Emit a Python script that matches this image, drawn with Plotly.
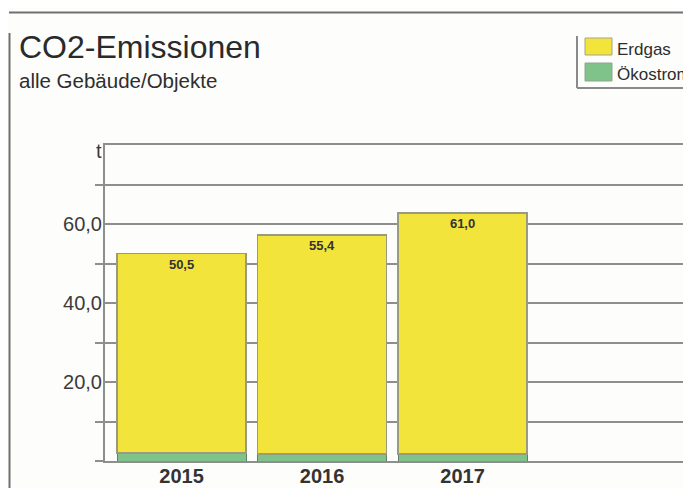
import plotly.graph_objects as go

# ---- data ----
years = ["2015", "2016", "2017"]
erdgas = [50.5, 55.4, 61.0]
oekostrom = [2.0, 1.8, 1.8]
y_tick_vals = [20, 40, 60]
y_tick_text = ["20,0", "40,0", "60,0"]
y_minor_vals = [0, 10, 30, 50, 70]
series_names = ["Erdgas", "Ökostrom"]

# ---- styling ----
YELLOW = "#f3e43c"
GREEN = "#7fc38b"
GRID = "#8e8e8e"
FONT = "Liberation Sans"

OFF = 8  # default page body margin
PAGE_W, PAGE_H = 691, 488
W, H = PAGE_W - OFF, PAGE_H - OFF
# plot area in page pixels: x 105..691, y 145..461
L = 105 - OFF
T = 145 - OFF
B = PAGE_H - 461
R = 0
PW = W - L - R
PH = H - T - B


def px(x):
    """page pixel x -> paper x"""
    return (x - OFF - L) / PW


def py(y):
    """page pixel y -> paper y"""
    return (H - B - (y - OFF)) / PH


fig = go.Figure()
fig.add_trace(go.Bar(
    x=years, y=oekostrom, name=series_names[1],
    marker=dict(color=GREEN, line=dict(color="#5f7f66", width=1)),
    hoverinfo="skip",
))
fig.add_trace(go.Bar(
    x=years, y=erdgas, name=series_names[0],
    marker=dict(color=YELLOW, line=dict(color="#9a9a80", width=1.5)),
    texttemplate="%{y:.1f}", textposition="inside", insidetextanchor="end",
    textangle=0, constraintext="none",
    textfont=dict(family=FONT, size=13, color="#333333", weight="bold"),
    hoverinfo="skip",
))

shapes = []
# outer frame lines
shapes.append(dict(type="line", xref="paper", yref="paper",
                   x0=px(9), x1=px(PAGE_W), y0=py(12.5), y1=py(12.5),
                   line=dict(color="#707070", width=2)))
shapes.append(dict(type="line", xref="paper", yref="paper",
                   x0=px(9.5), x1=px(9.5), y0=py(33), y1=py(PAGE_H),
                   line=dict(color="#707070", width=2)))
# legend frame (left and bottom)
shapes.append(dict(type="line", xref="paper", yref="paper",
                   x0=px(577), x1=px(577), y0=py(36), y1=py(88),
                   line=dict(color="#8a8a8a", width=2)))
shapes.append(dict(type="line", xref="paper", yref="paper",
                   x0=px(577), x1=px(PAGE_W), y0=py(88), y1=py(88),
                   line=dict(color="#8a8a8a", width=2)))
# legend swatches
shapes.append(dict(type="rect", xref="paper", yref="paper",
                   x0=px(585), x1=px(612), y0=py(55), y1=py(38),
                   fillcolor=YELLOW, line=dict(color="#a5a58a", width=1)))
shapes.append(dict(type="rect", xref="paper", yref="paper",
                   x0=px(585), x1=px(612), y0=py(81), y1=py(63),
                   fillcolor=GREEN, line=dict(color="#8fa592", width=1)))

annotations = [
    dict(text="CO2-Emissionen", xref="paper", yref="paper",
         x=px(17), y=py(47), xanchor="left", yanchor="middle",
         showarrow=False, font=dict(family=FONT, size=32, color="#2a2a2a")),
    dict(text="alle Gebäude/Objekte", xref="paper", yref="paper",
         x=px(17), y=py(80.5), xanchor="left", yanchor="middle",
         showarrow=False, font=dict(family=FONT, size=20.5, color="#2e2e2e")),
    dict(text="t", xref="paper", yref="paper",
         x=px(104), y=py(151), xanchor="right", yanchor="middle",
         showarrow=False, font=dict(family=FONT, size=20, color="#3a3a3a")),
    dict(text=series_names[0], xref="paper", yref="paper",
         x=px(615), y=py(49.5), xanchor="left", yanchor="middle",
         showarrow=False, font=dict(family=FONT, size=17, color="#2e2e2e")),
    dict(text=series_names[1], xref="paper", yref="paper",
         x=px(615), y=py(75), xanchor="left", yanchor="middle",
         showarrow=False, font=dict(family=FONT, size=17, color="#2e2e2e")),
]

fig.update_layout(
    width=W, height=H,
    margin=dict(l=L, r=R, t=T, b=B, pad=0),
    paper_bgcolor="#fdfdfb", plot_bgcolor="#fdfdfb",
    barmode="stack", bargap=0.082,
    showlegend=False,
    separators=",.",
    font=dict(family=FONT, color="#333333"),
    shapes=shapes, annotations=annotations,
    xaxis=dict(
        type="category", range=[-0.545, 3.626],
        showline=True, linecolor=GRID, linewidth=2, mirror=True,
        ticks="", showgrid=False, zeroline=False,
        ticklabelstandoff=-4,
        tickfont=dict(family=FONT, size=20, color="#333333", weight="bold"),
    ),
    yaxis=dict(
        range=[0, 80], tickvals=y_tick_vals, ticktext=y_tick_text,
        showline=True, linecolor=GRID, linewidth=2,
        showgrid=True, gridcolor=GRID, gridwidth=2,
        zeroline=False, ticks="",
        ticklabelstandoff=-3,
        tickfont=dict(family=FONT, size=20, color="#3a3a3a"),
        minor=dict(tickvals=y_minor_vals, ticks="outside", ticklen=8,
                   tickcolor=GRID, tickwidth=2, showgrid=True,
                   gridcolor=GRID, gridwidth=2),
    ),
)

fig.write_html("out.html")
